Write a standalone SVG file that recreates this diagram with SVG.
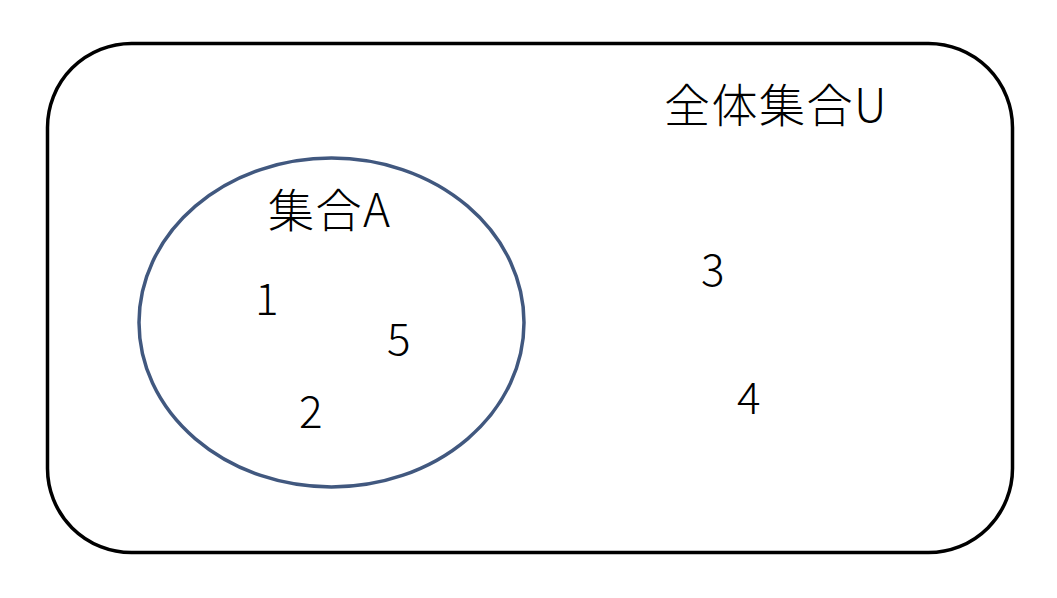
<svg xmlns="http://www.w3.org/2000/svg" width="1057" height="598" viewBox="0 0 1057 598">
<style>
text{font-family:"Noto Sans CJK JP","Noto Sans",sans-serif;font-size:44px;fill:#000;font-weight:300}
.title{font-size:46px;letter-spacing:1.5px}
</style>
<rect width="1057" height="598" fill="#fff"/>
<g id="universe">
<rect x="47.5" y="43.5" width="965" height="509" rx="84" ry="84" fill="none" stroke="#000" stroke-width="3.5"/>
<text class="title" x="664" y="122">全体集合U</text>
</g>
<g id="setA">
<ellipse cx="331.5" cy="322.5" rx="192.5" ry="164.5" fill="none" stroke="#41587f" stroke-width="3.5"/>
<text class="title" x="268" y="227">集合A</text>
</g>
<g id="elements">
<text x="255" y="315">1</text>
<text x="387" y="355">5</text>
<text x="299" y="428">2</text>
<text x="701" y="286">3</text>
<text x="737" y="414">4</text>
</g>
<g id="connectors"/>
</svg>
